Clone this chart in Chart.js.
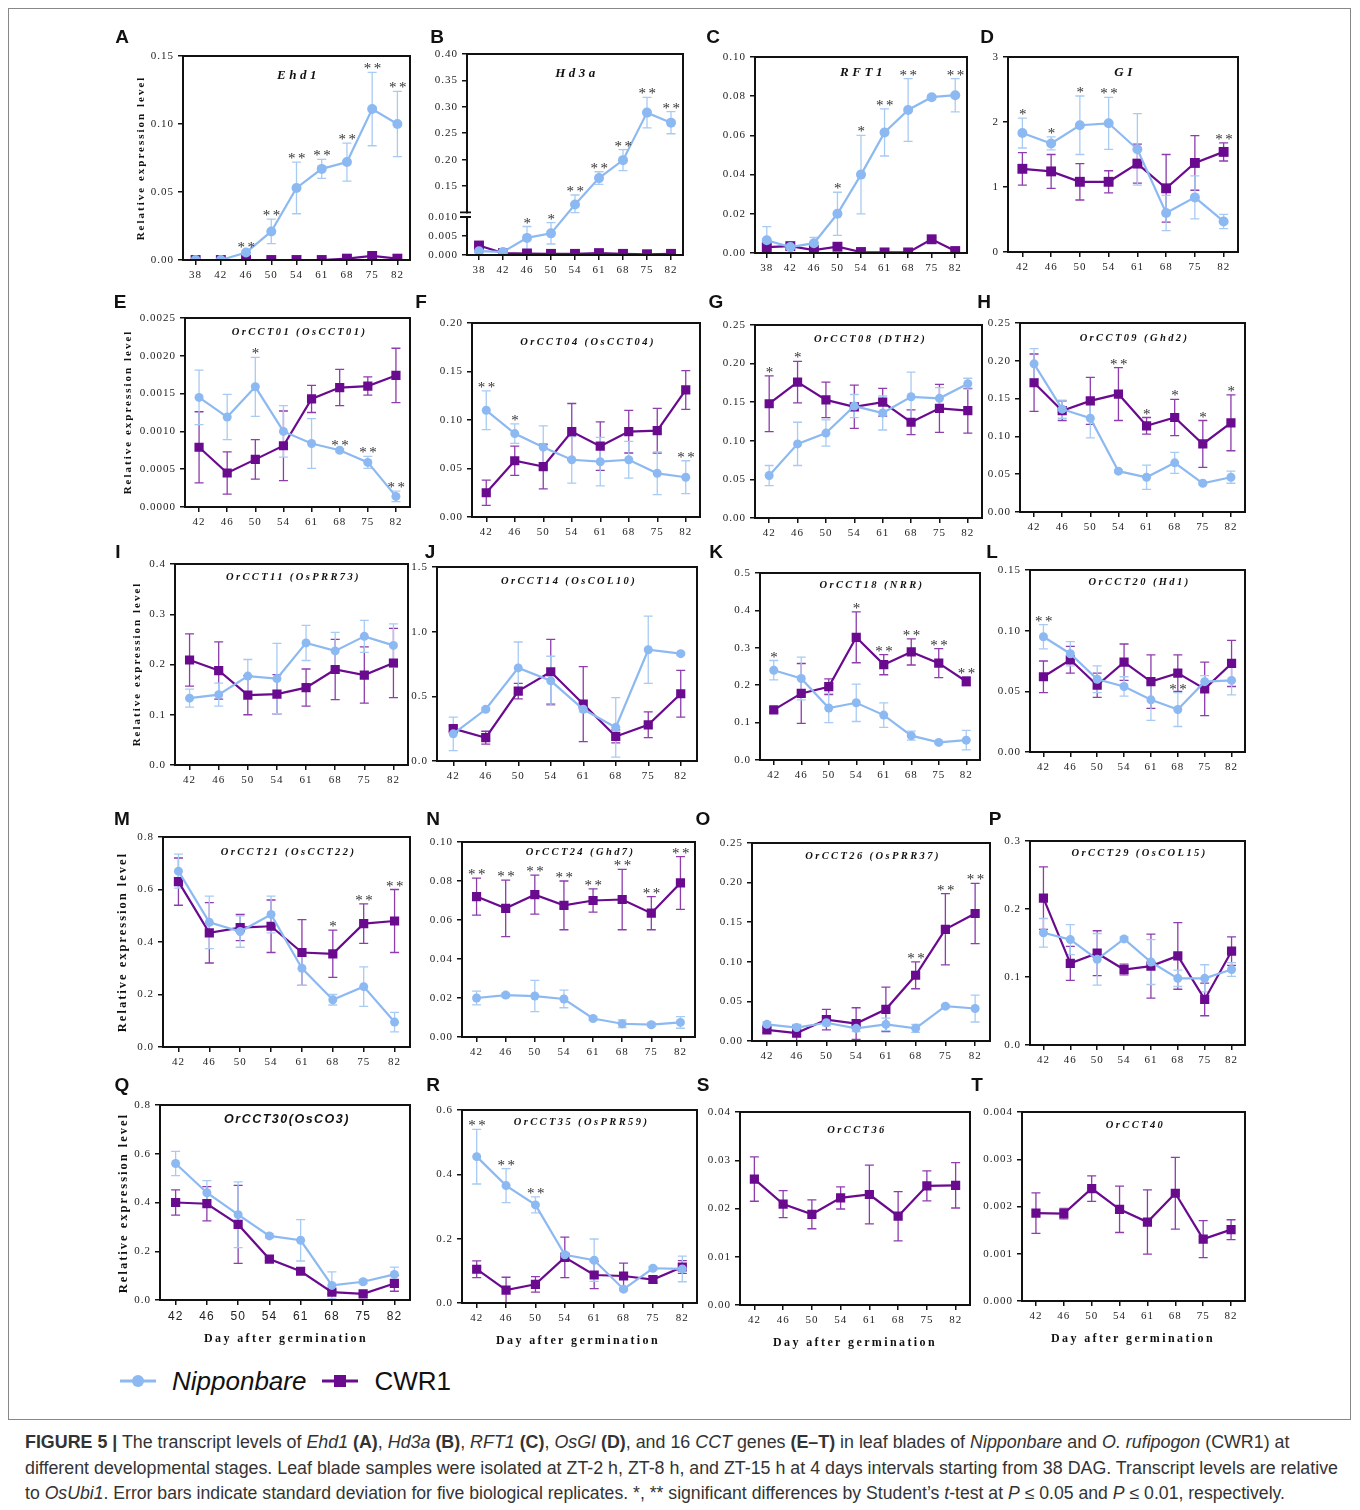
<!DOCTYPE html>
<html>
<head>
<meta charset="utf-8">
<script src="https://cdn.jsdelivr.net/npm/chart.js@4.4.0/dist/chart.umd.min.js"></script>
<style>
  body { margin: 0; background: #fff; width: 1360px; height: 1510px; position: relative; overflow: hidden; }
  .frame { position: absolute; left: 8px; top: 8px; width: 1343px; height: 1412px; border: 1px solid #888; box-sizing: border-box; }
  canvas { position: absolute; }
  .tag { position: absolute; transform: translate(-50%, -50%); font: bold 19px "Liberation Sans", Arial, sans-serif; color: #111; }
  .ytitle { position: absolute; transform: translate(-50%, -50%) rotate(-90deg); font: bold 11px "Liberation Serif", serif; letter-spacing: 2px; white-space: nowrap; color: #111; }
  .xtitle { position: absolute; transform: translate(-50%, -50%); font: bold 12px "Liberation Serif", serif; letter-spacing: 2.4px; white-space: nowrap; color: #111; }
  .legend { position: absolute; top: 1363px; left: 118px; height: 36px; display: flex; align-items: center; font-family: "Liberation Sans", Arial, sans-serif; font-size: 26px; color: #111; }
  .caption { position: absolute; left: 25px; top: 1430px; font: 17.5px "Liberation Sans", Arial, sans-serif; color: #333; line-height: 25.5px; }
  .caption div { white-space: nowrap; transform-origin: left center; }
</style>
</head>
<body>
<div class="frame"></div>
<div id="root"></div>

<div class="legend">
  <svg width="40" height="20"><line x1="2" y1="10" x2="38" y2="10" stroke="#8cb9f1" stroke-width="3"/><circle cx="20" cy="10" r="6" fill="#8cb9f1"/></svg>
  <span style="font-style:italic;margin-left:14px">Nipponbare</span>
  <svg width="40" height="20" style="margin-left:14px"><line x1="2" y1="10" x2="38" y2="10" stroke="#6a0a8e" stroke-width="3"/><rect x="14" y="4" width="12" height="12" fill="#6a0a8e"/></svg>
  <span style="margin-left:14px">CWR1</span>
</div>

<div class="caption">
  <div><b>FIGURE 5 |</b> The transcript levels of <i>Ehd1</i> <b>(A)</b>, <i>Hd3a</i> <b>(B)</b>, <i>RFT1</i> <b>(C)</b>, <i>OsGI</i> <b>(D)</b>, and 16 <i>CCT</i> genes <b>(E–T)</b> in leaf blades of <i>Nipponbare</i> and <i>O. rufipogon</i> (CWR1) at</div>
  <div>different developmental stages. Leaf blade samples were isolated at ZT-2 h, ZT-8 h, and ZT-15 h at 4 days intervals starting from 38 DAG. Transcript levels are relative</div>
  <div>to <i>OsUbi1</i>. Error bars indicate standard deviation for five biological replicates. *, ** significant differences by Student’s <i>t</i>-test at <i>P</i> ≤ 0.05 and <i>P</i> ≤ 0.01, respectively.</div>
</div>

<script>
// sampling days
const days9 = [38, 42, 46, 50, 54, 61, 68, 75, 82];
const days8 = [42, 46, 50, 54, 61, 68, 75, 82];

// A  Ehd1
const ehd1Nip = [0, 0, 0.0055, 0.021, 0.053, 0.067, 0.072, 0.111, 0.100];
const ehd1NipSd = [0, 0, 0.001, 0.009, 0.019, 0.007, 0.014, 0.027, 0.024];
const ehd1Cwr = [0, 0, 0, 0, 0, 0, 0.001, 0.003, 0.001];
const ehd1CwrSd = [0, 0, 0, 0, 0, 0, 0.001, 0.001, 0.001];
const ehd1Stars = ['', '', '**', '**', '**', '**', '**', '**', '**'];

// B  Hd3a (broken axis)
const hd3aNip = [0.001, 0.0008, 0.0045, 0.0057, 0.115, 0.165, 0.199, 0.289, 0.270];
const hd3aNipSd = [0.0003, 0.0003, 0.003, 0.0028, 0.018, 0.012, 0.020, 0.029, 0.021];
const hd3aCwr = [0.0025, 0.0005, 0.0004, 0.0003, 0.0003, 0.0005, 0.0003, 0.0002, 0.0003];
const hd3aCwrSd = [0.0003, 0.0002, 0.0002, 0.0002, 0.0002, 0.0002, 0.0002, 0.0001, 0.0002];
const hd3aStars = ['', '', '*', '*', '**', '**', '**', '**', '**'];
const hd3aTicks = [0, 0.005, 0.010, 0.15, 0.20, 0.25, 0.30, 0.35, 0.40];
const hd3aTickText = ['0.000', '0.005', '0.010', '0.15', '0.20', '0.25', '0.30', '0.35', '0.40'];

// C  RFT1
const rft1Nip = [0.0065, 0.003, 0.005, 0.020, 0.040, 0.0615, 0.073, 0.0795, 0.0805];
const rft1NipSd = [0.007, 0.001, 0.003, 0.011, 0.020, 0.012, 0.016, 0.001, 0.0085];
const rft1Cwr = [0.003, 0.0035, 0.0015, 0.0032, 0.0005, 0.0003, 0.0003, 0.007, 0.001];
const rft1CwrSd = [0.001, 0.001, 0.001, 0.001, 0.0005, 0.0003, 0.0003, 0.001, 0.0005];
const rft1Stars = ['', '', '', '*', '*', '**', '**', '', '**'];

// D  GI
const giNip = [1.83, 1.67, 1.95, 1.98, 1.58, 0.60, 0.84, 0.47];
const giNipSd = [0.23, 0.10, 0.45, 0.40, 0.55, 0.27, 0.33, 0.11];
const giCwr = [1.28, 1.24, 1.08, 1.08, 1.36, 0.98, 1.37, 1.54];
const giCwrSd = [0.25, 0.26, 0.28, 0.17, 0.30, 0.52, 0.42, 0.14];
const giStars = ['*', '*', '*', '**', '', '', '', '**'];

// E  OrCCT01
const cct01Nip = [0.00145, 0.00119, 0.00159, 0.00100, 0.00084, 0.00075, 0.00059, 0.00014];
const cct01NipSd = [0.00036, 0.00030, 0.00039, 0.00034, 0.00033, 0.00002, 0.00008, 0.00007];
const cct01Cwr = [0.00079, 0.00045, 0.00063, 0.00081, 0.00143, 0.00158, 0.00160, 0.00174];
const cct01CwrSd = [0.00047, 0.00028, 0.00026, 0.00046, 0.00018, 0.00024, 0.00012, 0.00036];
const cct01Stars = ['', '', '*', '', '', '**', '**', '**'];

// F  OrCCT04
const cct04Nip = [0.110, 0.086, 0.072, 0.059, 0.057, 0.059, 0.045, 0.041];
const cct04NipSd = [0.020, 0.010, 0.022, 0.024, 0.025, 0.019, 0.022, 0.017];
const cct04Cwr = [0.025, 0.058, 0.052, 0.088, 0.073, 0.088, 0.089, 0.131];
const cct04CwrSd = [0.013, 0.015, 0.023, 0.029, 0.025, 0.022, 0.023, 0.020];
const cct04Stars = ['**', '*', '', '', '', '', '', '**'];

// G  OrCCT08
const cct08Nip = [0.055, 0.096, 0.110, 0.145, 0.136, 0.157, 0.155, 0.174];
const cct08NipSd = [0.013, 0.028, 0.017, 0.015, 0.022, 0.032, 0.014, 0.007];
const cct08Cwr = [0.148, 0.176, 0.153, 0.144, 0.150, 0.124, 0.142, 0.139];
const cct08CwrSd = [0.036, 0.027, 0.023, 0.028, 0.018, 0.016, 0.031, 0.029];
const cct08Stars = ['*', '*', '', '', '', '', '', ''];

// H  OrCCT09
const cct09Nip = [0.196, 0.136, 0.124, 0.054, 0.046, 0.065, 0.038, 0.046];
const cct09NipSd = [0.020, 0.012, 0.026, 0.002, 0.016, 0.014, 0.002, 0.008];
const cct09Cwr = [0.171, 0.134, 0.147, 0.156, 0.114, 0.125, 0.090, 0.118];
const cct09CwrSd = [0.038, 0.013, 0.031, 0.035, 0.011, 0.024, 0.031, 0.037];
const cct09Stars = ['', '', '', '**', '*', '*', '*', '*'];

// I  OrCCT11
const cct11Nip = [0.133, 0.140, 0.177, 0.172, 0.243, 0.227, 0.256, 0.238];
const cct11NipSd = [0.018, 0.023, 0.033, 0.070, 0.035, 0.037, 0.032, 0.043];
const cct11Cwr = [0.209, 0.188, 0.139, 0.141, 0.154, 0.190, 0.179, 0.203];
const cct11CwrSd = [0.052, 0.057, 0.039, 0.039, 0.037, 0.060, 0.056, 0.069];

// J  OrCCT14
const cct14Nip = [0.21, 0.40, 0.72, 0.62, 0.40, 0.26, 0.86, 0.83];
const cct14NipSd = [0.13, 0.01, 0.20, 0.19, 0.02, 0.23, 0.26, 0.01];
const cct14Cwr = [0.25, 0.18, 0.54, 0.69, 0.44, 0.19, 0.28, 0.52];
const cct14CwrSd = [0.02, 0.05, 0.06, 0.25, 0.29, 0.05, 0.10, 0.18];

// K  OrCCT18
const cct18Nip = [0.240, 0.218, 0.139, 0.153, 0.120, 0.065, 0.047, 0.053];
const cct18NipSd = [0.026, 0.057, 0.039, 0.050, 0.033, 0.012, 0.003, 0.026];
const cct18Cwr = [0.134, 0.178, 0.196, 0.328, 0.255, 0.289, 0.259, 0.210];
const cct18CwrSd = [0.006, 0.080, 0.021, 0.068, 0.027, 0.035, 0.039, 0.012];
const cct18Stars = ['*', '', '', '*', '**', '**', '**', '**'];

// L  OrCCT20
const cct20Nip = [0.095, 0.081, 0.060, 0.054, 0.043, 0.035, 0.058, 0.059];
const cct20NipSd = [0.010, 0.010, 0.011, 0.008, 0.017, 0.014, 0.005, 0.012];
const cct20Cwr = [0.062, 0.076, 0.055, 0.074, 0.058, 0.065, 0.052, 0.073];
const cct20CwrSd = [0.013, 0.011, 0.010, 0.015, 0.022, 0.015, 0.022, 0.019];
const cct20Stars = ['**', '', '', '', '', '**', '', ''];

// M  OrCCT21
const cct21Nip = [0.67, 0.475, 0.44, 0.505, 0.30, 0.18, 0.23, 0.095];
const cct21NipSd = [0.065, 0.10, 0.06, 0.07, 0.065, 0.02, 0.075, 0.037];
const cct21Cwr = [0.63, 0.435, 0.455, 0.46, 0.36, 0.355, 0.47, 0.48];
const cct21CwrSd = [0.09, 0.115, 0.05, 0.10, 0.125, 0.09, 0.075, 0.12];
const cct21Stars = ['', '', '', '', '', '*', '**', '**'];

// N  OrCCT24
const cct24Nip = [0.020, 0.0215, 0.021, 0.0195, 0.0095, 0.0068, 0.0063, 0.0075];
const cct24NipSd = [0.0035, 0.001, 0.008, 0.0045, 0.001, 0.002, 0.001, 0.003];
const cct24Cwr = [0.072, 0.066, 0.073, 0.0675, 0.070, 0.0705, 0.0635, 0.079];
const cct24CwrSd = [0.0095, 0.0145, 0.010, 0.0125, 0.006, 0.0155, 0.0085, 0.0135];
const cct24Stars = ['**', '**', '**', '**', '**', '**', '**', '**'];

// O  OrCCT26
const cct26Nip = [0.021, 0.017, 0.023, 0.016, 0.021, 0.016, 0.044, 0.041];
const cct26NipSd = [0.003, 0.004, 0.004, 0.004, 0.008, 0.005, 0.002, 0.017];
const cct26Cwr = [0.014, 0.010, 0.027, 0.022, 0.040, 0.083, 0.141, 0.161];
const cct26CwrSd = [0.003, 0.010, 0.013, 0.020, 0.028, 0.017, 0.045, 0.038];
const cct26Stars = ['', '', '', '', '', '**', '**', '**'];

// P  OrCCT29
const cct29Nip = [0.165, 0.155, 0.126, 0.156, 0.122, 0.098, 0.098, 0.111];
const cct29NipSd = [0.021, 0.022, 0.038, 0.003, 0.033, 0.012, 0.020, 0.010];
const cct29Cwr = [0.216, 0.120, 0.135, 0.111, 0.116, 0.131, 0.067, 0.138];
const cct29CwrSd = [0.046, 0.025, 0.033, 0.008, 0.047, 0.049, 0.024, 0.021];

// Q  OrCCT30
const cct30Nip = [0.56, 0.44, 0.35, 0.263, 0.245, 0.06, 0.075, 0.105];
const cct30NipSd = [0.05, 0.05, 0.135, 0.008, 0.085, 0.055, 0.008, 0.03];
const cct30Cwr = [0.40, 0.395, 0.31, 0.168, 0.118, 0.032, 0.025, 0.068];
const cct30CwrSd = [0.052, 0.07, 0.16, 0.008, 0.008, 0.008, 0.005, 0.032];

// R  OrCCT35
const cct35Nip = [0.455, 0.365, 0.305, 0.150, 0.133, 0.043, 0.108, 0.106];
const cct35NipSd = [0.085, 0.053, 0.025, 0.005, 0.066, 0.005, 0.005, 0.04];
const cct35Cwr = [0.105, 0.040, 0.058, 0.142, 0.087, 0.084, 0.073, 0.112];
const cct35CwrSd = [0.026, 0.040, 0.024, 0.063, 0.042, 0.040, 0.010, 0.020];
const cct35Stars = ['**', '**', '**', '', '', '', '', ''];

// S  OrCCT36 (CWR1 only)
const cct36Cwr = [0.0261, 0.0209, 0.0188, 0.0222, 0.0229, 0.0184, 0.0247, 0.0248];
const cct36CwrSd = [0.0046, 0.0028, 0.0030, 0.0023, 0.0061, 0.0051, 0.0031, 0.0047];

// T  OrCCT40 (CWR1 only)
const cct40Cwr = [0.00186, 0.00185, 0.00238, 0.00194, 0.00167, 0.00228, 0.00131, 0.00151];
const cct40CwrSd = [0.00043, 0.00011, 0.00027, 0.00049, 0.00068, 0.00076, 0.00039, 0.00021];

const NIP = '#8cb9f1', NIP_BAR = '#a8cbf4';
const CWR = '#6a0a8e', CWR_BAR = '#8d3dac';
const SERIF = '"Liberation Serif", "DejaVu Serif", serif';
const SANS = '"Liberation Sans", Arial, sans-serif';

// piecewise mapping for the broken Hd3a axis (0-0.010 below the break, 0.10-0.40 above)
function hd3aMap(v) {
  if (v <= 0.01) return v / 0.01;
  if (v < 0.1) return 1 + (v - 0.01) / 0.09 * 0.121;
  return 1.121 + (v - 0.1) / 0.05 * 0.695;
}

// box = plot area [left, top, right, bottom]; tdy = title offset below the box top
const panels = [
  { tag: 'A', tagAt: [122, 37], box: [183, 56, 410, 260], tdy: 20, title: 'Ehd1', big: true, labels: days9, y: [0, 0.15, 0.05, 2],
    nip: ehd1Nip, nipSd: ehd1NipSd, cwr: ehd1Cwr, cwrSd: ehd1CwrSd, stars: ehd1Stars, starOn: 'n' },
  { tag: 'B', tagAt: [437, 37], box: [467, 54, 683, 255], tdy: 20, title: 'Hd3a', big: true, labels: days9, brk: true,
    nip: hd3aNip, nipSd: hd3aNipSd, cwr: hd3aCwr, cwrSd: hd3aCwrSd, stars: hd3aStars, starOn: 'n' },
  { tag: 'C', tagAt: [713, 37], box: [755, 57, 967, 253], tdy: 16, title: 'RFT1', big: true, labels: days9, y: [0, 0.10, 0.02, 2],
    nip: rft1Nip, nipSd: rft1NipSd, cwr: rft1Cwr, cwrSd: rft1CwrSd, stars: rft1Stars, starOn: 'n' },
  { tag: 'D', tagAt: [987, 37], box: [1008, 57, 1238, 252], tdy: 16, title: 'GI', big: true, labels: days8, y: [0, 3, 1, 0],
    nip: giNip, nipSd: giNipSd, cwr: giCwr, cwrSd: giCwrSd, stars: giStars, starOn: 'max' },

  { tag: 'E', tagAt: [120, 302], box: [185, 318, 410, 507], tdy: 14, title: 'OrCCT01 (OsCCT01)', labels: days8, y: [0, 0.0025, 0.0005, 4],
    nip: cct01Nip, nipSd: cct01NipSd, cwr: cct01Cwr, cwrSd: cct01CwrSd, stars: cct01Stars, starOn: 'n' },
  { tag: 'F', tagAt: [421, 302], box: [472, 323, 700, 517], tdy: 19, title: 'OrCCT04 (OsCCT04)', labels: days8, y: [0, 0.20, 0.05, 2],
    nip: cct04Nip, nipSd: cct04NipSd, cwr: cct04Cwr, cwrSd: cct04CwrSd, stars: cct04Stars, starOn: 'n' },
  { tag: 'G', tagAt: [716, 302], box: [755, 325, 982, 518], tdy: 14, title: 'OrCCT08 (DTH2)', labels: days8, y: [0, 0.25, 0.05, 2],
    nip: cct08Nip, nipSd: cct08NipSd, cwr: cct08Cwr, cwrSd: cct08CwrSd, stars: cct08Stars, starOn: 'c' },
  { tag: 'H', tagAt: [984, 302], box: [1020, 323, 1245, 512], tdy: 15, title: 'OrCCT09 (Ghd2)', labels: days8, y: [0, 0.25, 0.05, 2],
    nip: cct09Nip, nipSd: cct09NipSd, cwr: cct09Cwr, cwrSd: cct09CwrSd, stars: cct09Stars, starOn: 'c' },

  { tag: 'I', tagAt: [118, 552], box: [175, 564, 408, 765], tdy: 13, title: 'OrCCT11 (OsPRR73)', labels: days8, y: [0, 0.4, 0.1, 1],
    nip: cct11Nip, nipSd: cct11NipSd, cwr: cct11Cwr, cwrSd: cct11CwrSd },
  { tag: 'J', tagAt: [430, 552], box: [437, 567, 697, 761], tdy: 14, title: 'OrCCT14 (OsCOL10)', labels: days8, y: [0, 1.5, 0.5, 1],
    nip: cct14Nip, nipSd: cct14NipSd, cwr: cct14Cwr, cwrSd: cct14CwrSd },
  { tag: 'K', tagAt: [716, 552], box: [760, 573, 980, 760], tdy: 12, title: 'OrCCT18 (NRR)', labels: days8, y: [0, 0.5, 0.1, 1],
    nip: cct18Nip, nipSd: cct18NipSd, cwr: cct18Cwr, cwrSd: cct18CwrSd, stars: cct18Stars, starOn: 'max' },
  { tag: 'L', tagAt: [992, 552], box: [1030, 570, 1245, 752], tdy: 12, title: 'OrCCT20 (Hd1)', labels: days8, y: [0, 0.15, 0.05, 2],
    nip: cct20Nip, nipSd: cct20NipSd, cwr: cct20Cwr, cwrSd: cct20CwrSd, stars: cct20Stars, starOn: 'n' },

  { tag: 'M', tagAt: [122, 819], box: [163, 837, 410, 1047], tdy: 15, title: 'OrCCT21 (OsCCT22)', labels: days8, y: [0, 0.8, 0.2, 1],
    nip: cct21Nip, nipSd: cct21NipSd, cwr: cct21Cwr, cwrSd: cct21CwrSd, stars: cct21Stars, starOn: 'max' },
  { tag: 'N', tagAt: [433, 819], box: [462, 842, 695, 1037], tdy: 10, title: 'OrCCT24 (Ghd7)', labels: days8, y: [0, 0.10, 0.02, 2],
    nip: cct24Nip, nipSd: cct24NipSd, cwr: cct24Cwr, cwrSd: cct24CwrSd, stars: cct24Stars, starOn: 'c' },
  { tag: 'O', tagAt: [703, 819], box: [752, 843, 990, 1041], tdy: 13, title: 'OrCCT26 (OsPRR37)', labels: days8, y: [0, 0.25, 0.05, 2],
    nip: cct26Nip, nipSd: cct26NipSd, cwr: cct26Cwr, cwrSd: cct26CwrSd, stars: cct26Stars, starOn: 'c' },
  { tag: 'P', tagAt: [995, 819], box: [1030, 841, 1245, 1045], tdy: 12, title: 'OrCCT29 (OsCOL15)', labels: days8, y: [0, 0.3, 0.1, 1],
    nip: cct29Nip, nipSd: cct29NipSd, cwr: cct29Cwr, cwrSd: cct29CwrSd },

  { tag: 'Q', tagAt: [122, 1085], box: [160, 1105, 410, 1300], tdy: 15, title: 'OrCCT30(OsCO3)', sansTitle: true, labels: days8, y: [0, 0.8, 0.2, 1],
    nip: cct30Nip, nipSd: cct30NipSd, cwr: cct30Cwr, cwrSd: cct30CwrSd },
  { tag: 'R', tagAt: [433, 1085], box: [462, 1110, 697, 1303], tdy: 12, title: 'OrCCT35 (OsPRR59)', labels: days8, y: [0, 0.6, 0.2, 1],
    nip: cct35Nip, nipSd: cct35NipSd, cwr: cct35Cwr, cwrSd: cct35CwrSd, stars: cct35Stars, starOn: 'n' },
  { tag: 'S', tagAt: [703, 1085], box: [740, 1112, 970, 1305], tdy: 18, title: 'OrCCT36', labels: days8, y: [0, 0.04, 0.01, 2],
    cwr: cct36Cwr, cwrSd: cct36CwrSd },
  { tag: 'T', tagAt: [977, 1085], box: [1022, 1112, 1245, 1301], tdy: 13, title: 'OrCCT40', labels: days8, y: [0, 0.004, 0.001, 3],
    cwr: cct40Cwr, cwrSd: cct40CwrSd }
];

const yTitles = [[140, 158, 11], [127, 412, 11], [136, 664, 11], [122, 942, 12.5], [123, 1203, 12.5]];
const xTitles = [[286, 1338], [578, 1340], [855, 1342], [1133, 1338]];

const root = document.getElementById('root');

const deco = {
  id: 'deco',
  beforeUpdate(chart) { chart.ctx.letterSpacing = '1px'; },
  beforeDraw(chart) { chart.ctx.letterSpacing = '1px'; },
  beforeDatasetsDraw(chart) {
    const p = chart.canvas._panel, ctx = chart.ctx, ys = chart.scales.y, xs = chart.scales.x;
    const tf = p.brk ? hd3aMap : v => v;
    const series = [];
    if (p.cwr) series.push([p.cwr, p.cwrSd, CWR_BAR]);
    if (p.nip) series.push([p.nip, p.nipSd, NIP_BAR]);
    ctx.save();
    ctx.lineWidth = 1.3;
    series.forEach(([vals, sds, col]) => {
      ctx.strokeStyle = col;
      vals.forEach((v, j) => {
        const sd = sds[j];
        if (!sd) return;
        const x = xs.getPixelForValue(j);
        const yt = ys.getPixelForValue(tf(v + sd));
        const low = v - sd;
        const yb = ys.getPixelForValue(tf(Math.max(low, 0)));
        ctx.beginPath();
        ctx.moveTo(x, yt); ctx.lineTo(x, yb);
        ctx.moveTo(x - 4.5, yt); ctx.lineTo(x + 4.5, yt);
        if (low > 0) { ctx.moveTo(x - 4.5, yb); ctx.lineTo(x + 4.5, yb); }
        ctx.stroke();
      });
    });
    ctx.restore();
  },
  afterDatasetsDraw(chart) {
    const p = chart.canvas._panel, ctx = chart.ctx, ys = chart.scales.y, xs = chart.scales.x;
    if (!p.stars) return;
    const tf = p.brk ? hd3aMap : v => v;
    ctx.save();
    ctx.font = '15px ' + SERIF;
    ctx.letterSpacing = '2.5px';
    ctx.fillStyle = '#333';
    ctx.textAlign = 'center';
    ctx.textBaseline = 'alphabetic';
    p.stars.forEach((s, j) => {
      if (!s) return;
      const tops = [];
      if (p.nip && (p.starOn === 'n' || p.starOn === 'max')) tops.push(p.nip[j] + p.nipSd[j]);
      if (p.cwr && (p.starOn === 'c' || p.starOn === 'max')) tops.push(p.cwr[j] + p.cwrSd[j]);
      const py = ys.getPixelForValue(tf(Math.max(...tops)));
      ctx.fillText(s, xs.getPixelForValue(j) + 1.5, py + 1);
    });
    ctx.restore();
  },
  afterDraw(chart) {
    const p = chart.canvas._panel, ctx = chart.ctx, a = chart.chartArea;
    ctx.save();
    ctx.strokeStyle = '#111';
    ctx.lineWidth = 2;
    ctx.strokeRect(a.left, a.top, a.right - a.left, a.bottom - a.top);
    if (p.brk) {
      const ys = chart.scales.y;
      const y1 = ys.getPixelForValue(hd3aMap(0.01)), y2 = ys.getPixelForValue(hd3aMap(0.1));
      ctx.fillStyle = '#fff';
      ctx.fillRect(a.left - 3, y2 + 1, 6, y1 - y2 - 2);
      ctx.lineWidth = 1.8;
      ctx.beginPath();
      ctx.moveTo(a.left - 7, y1); ctx.lineTo(a.left + 4, y1);
      ctx.moveTo(a.left - 7, y2); ctx.lineTo(a.left + 4, y2);
      ctx.stroke();
    }
    // gene title
    ctx.fillStyle = '#111';
    ctx.textAlign = 'center';
    ctx.textBaseline = 'middle';
    if (p.sansTitle) {
      ctx.font = 'italic bold 12.5px ' + SANS;
      ctx.letterSpacing = '1.5px';
    } else if (p.big) {
      ctx.font = 'italic bold 13px ' + SERIF;
      ctx.letterSpacing = '3.5px';
    } else {
      ctx.font = 'italic bold 10.5px ' + SERIF;
      ctx.letterSpacing = '2.4px';
    }
    ctx.fillText(p.title, (a.left + a.right) / 2 + 2, a.top + p.tdy);
    ctx.restore();
  }
};

panels.forEach(p => {
  const [L, T, R, B] = p.box;
  const padL = 64, padT = 24, padR = 14, padB = 34;
  const cv = document.createElement('canvas');
  cv.width = R - L + padL + padR;
  cv.height = B - T + padT + padB;
  cv.style.left = (L - padL) + 'px';
  cv.style.top = (T - padT) + 'px';
  cv._panel = p;
  root.appendChild(cv);

  const tf = p.brk ? hd3aMap : v => v;
  const datasets = [];
  if (p.nip) datasets.push({
    label: 'Nipponbare', data: p.nip.map(tf), borderColor: NIP, backgroundColor: NIP,
    pointStyle: 'circle', pointRadius: p.big ? 5 : 4.5, pointBorderWidth: 0, borderWidth: 2.2, tension: 0
  });
  if (p.cwr) datasets.push({
    label: 'CWR1', data: p.cwr.map(tf), borderColor: CWR, backgroundColor: CWR,
    pointStyle: 'rect', pointRadius: p.big ? 7 : 6.5, pointBorderWidth: 0, borderWidth: 2.2, tension: 0
  });

  const tickFont = { family: SERIF, size: 11 };
  const yScale = {
    grid: { drawOnChartArea: false, drawTicks: true, tickLength: 5, color: '#111', lineWidth: 1.5 },
    border: { display: false },
    ticks: { font: tickFont, color: '#222', padding: 4 },
    afterFit(s) { s.width = padL; }
  };
  if (p.brk) {
    yScale.min = 0;
    yScale.max = hd3aMap(0.40);
    yScale.afterBuildTicks = s => { s.ticks = hd3aTicks.map(v => ({ value: hd3aMap(v) })); };
    yScale.ticks.callback = (v, i) => hd3aTickText[i];
  } else {
    const [mn, mx, st, dec] = p.y;
    yScale.min = mn;
    yScale.max = mx;
    yScale.ticks.stepSize = st;
    yScale.ticks.callback = v => Number(v).toFixed(dec);
  }

  new Chart(cv, {
    type: 'line',
    data: { labels: p.labels, datasets },
    options: {
      responsive: false,
      animation: false,
      devicePixelRatio: 1,
      layout: { padding: { top: padT, right: padR, left: 0, bottom: 0 } },
      plugins: { legend: { display: false }, tooltip: { enabled: false } },
      scales: {
        x: {
          type: 'category', offset: true,
          grid: { drawOnChartArea: false, offset: false, drawTicks: true, tickLength: 5, color: '#111', lineWidth: 1.5 },
          border: { display: false },
          ticks: {
            font: p.sansTitle ? { family: SANS, size: 12 } : tickFont,
            color: '#222', padding: 4, maxRotation: 0, autoSkip: false
          },
          afterFit(s) { s.height = padB; }
        },
        y: yScale
      }
    },
    plugins: [deco]
  });

  const tag = document.createElement('div');
  tag.className = 'tag';
  tag.textContent = p.tag;
  tag.style.left = p.tagAt[0] + 'px';
  tag.style.top = p.tagAt[1] + 'px';
  root.appendChild(tag);
});

yTitles.forEach(([x, y, fs]) => {
  const d = document.createElement('div');
  d.className = 'ytitle';
  d.textContent = 'Relative expression level';
  d.style.left = x + 'px';
  d.style.top = y + 'px';
  d.style.fontSize = fs + 'px';
  root.appendChild(d);
});
xTitles.forEach(([x, y]) => {
  const d = document.createElement('div');
  d.className = 'xtitle';
  d.textContent = 'Day after germination';
  d.style.left = x + 'px';
  d.style.top = y + 'px';
  root.appendChild(d);
});

// stretch caption lines to the widths they occupy in the figure
const capWidths = [1315, 1313, 1300];
document.querySelectorAll('.caption div').forEach((d, i) => {
  const w = d.getBoundingClientRect().width;
  d.style.transform = 'scaleX(' + (capWidths[i] / w) + ')';
});
</script>
</body>
</html>
